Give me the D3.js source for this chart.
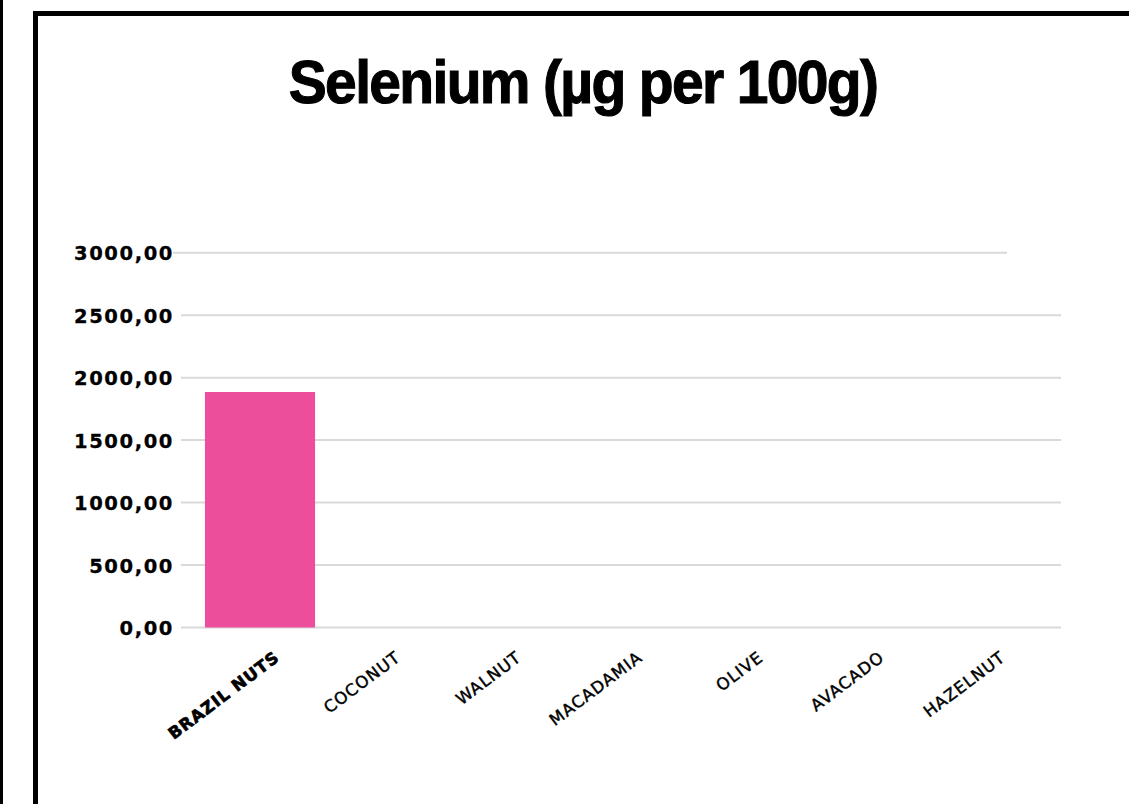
<!DOCTYPE html>
<html>
<head>
<meta charset="utf-8">
<script src="https://cdn.jsdelivr.net/npm/d3@7"></script>
<style>
  html, body { margin: 0; padding: 0; background: #fff; }
  svg { display: block; }
</style>
</head>
<body>
<svg id="chart" width="1129" height="804"></svg>
<script>
const title = "Selenium (µg per 100g)";
const categories = ["BRAZIL NUTS", "COCONUT", "WALNUT", "MACADAMIA", "OLIVE", "AVACADO", "HAZELNUT"];
const values = [1885, 0, 0, 0, 0, 0, 0];
const yTicks = [0, 500, 1000, 1500, 2000, 2500, 3000];
const yTickLabels = ["0,00", "500,00", "1000,00", "1500,00", "2000,00", "2500,00", "3000,00"];
const highlighted = ["BRAZIL NUTS"];

const svg = d3.select("#chart");
const W = 1129, H = 804;

svg.append("rect").attr("x", 0).attr("y", 0).attr("width", W).attr("height", H).attr("fill", "#fff");

// frame lines
svg.append("line").attr("x1", 1.5).attr("x2", 1.5).attr("y1", 0).attr("y2", H)
  .attr("stroke", "#000").attr("stroke-width", 3);
svg.append("rect").attr("x", 35.5).attr("y", 13.5).attr("width", 1200).attr("height", 900)
  .attr("fill", "none").attr("stroke", "#000").attr("stroke-width", 5);

// title (narrowed horizontally to mimic a tight heavy grotesque)
const tG = svg.append("g").attr("transform", "translate(583,103) scale(0.935,1)");
tG.append("text")
  .attr("x", 0).attr("y", 0)
  .attr("text-anchor", "middle")
  .attr("font-family", "'Liberation Sans', Arial, sans-serif")
  .attr("font-weight", "bold")
  .attr("font-size", 61)
  .attr("letter-spacing", -1.8)
  .attr("fill", "#000")
  .attr("stroke", "#000")
  .attr("stroke-width", 1.1)
  .text(title);

const y = d3.scaleLinear().domain([0, 3000]).range([627.5, 252.7]);
const x = d3.scaleBand().domain(categories).range([199.5, 1046.5])
  .paddingInner(0.09).paddingOuter(0.045);

// gridlines
const grid = svg.append("g");
grid.selectAll("line").data(yTicks).join("line")
  .attr("x1", d => d === 3000 ? 173 : 181)
  .attr("x2", d => d === 3000 ? 1007 : 1061)
  .attr("y1", d => y(d)).attr("y2", d => y(d))
  .attr("stroke", "#d9d9d9").attr("stroke-width", 2);

// y labels via axis
const yAxis = d3.axisLeft(y).tickValues(yTicks)
  .tickFormat(d => yTickLabels[yTicks.indexOf(d)])
  .tickSize(0).tickPadding(0);
const gy = svg.append("g").attr("transform", "translate(174,0)").call(yAxis);
gy.select(".domain").remove();
gy.selectAll("text")
  .attr("font-family", "'DejaVu Sans', sans-serif")
  .attr("font-weight", "bold")
  .attr("font-size", 19.5)
  .attr("letter-spacing", 1.6)
  .attr("fill", "#000")
  .attr("stroke", "#000")
  .attr("stroke-width", 0.3)
  .attr("dy", "0.36em");

// bars
svg.append("g").selectAll("rect").data(categories).join("rect")
  .attr("x", d => x(d))
  .attr("width", x.bandwidth())
  .attr("y", (d, i) => y(values[i]))
  .attr("height", (d, i) => y(0) - y(values[i]))
  .attr("fill", "#ec4e9c");

// x labels via axis
const xAxis = d3.axisBottom(x).tickSize(0).tickPadding(0);
const gx = svg.append("g").attr("transform", "translate(0,655)").call(xAxis);
gx.select(".domain").remove();
gx.selectAll("text")
  .attr("font-family", "'DejaVu Sans', sans-serif")
  .attr("font-weight", d => highlighted.includes(d) ? "bold" : "normal")
  .attr("font-size", 16.5)
  .attr("letter-spacing", 1)
  .attr("fill", "#000")
  .attr("stroke", "#000")
  .attr("stroke-width", d => highlighted.includes(d) ? 0.7 : 0.45)
  .attr("text-anchor", "end")
  .attr("dy", "0.35em")
  .attr("y", 0)
  .attr("transform", "translate(17,0) rotate(-37)");
</script>
</body>
</html>
